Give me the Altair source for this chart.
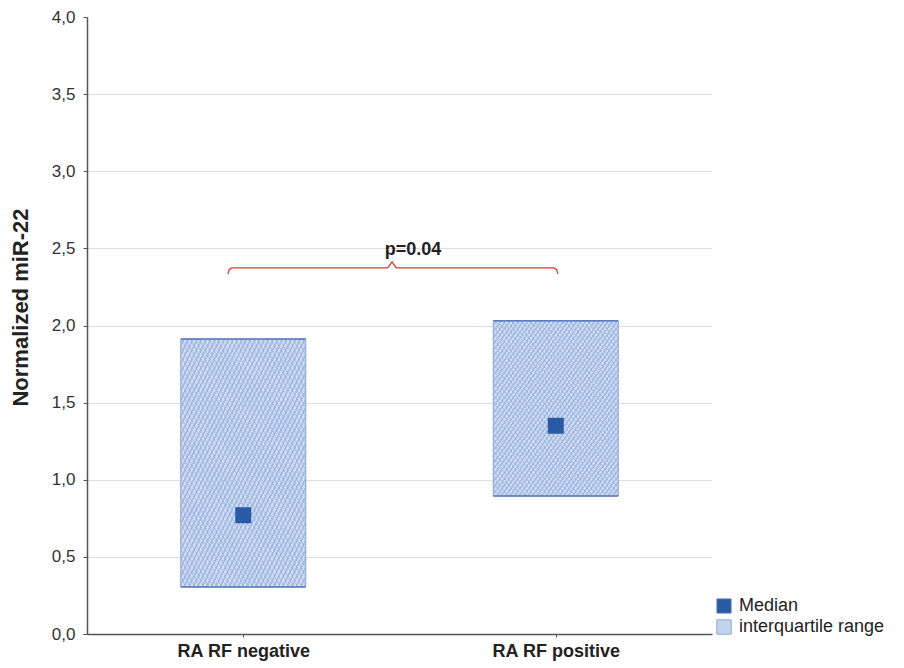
import altair as alt
import pandas as pd

# ---- data ----
groups = ["RA RF negative", "RA RF positive"]
group_pos = [1, 2]
q1 = [0.305, 0.895]
q3 = [1.912, 2.03]
medians = [0.77, 1.35]

bracket_x = [0.951, 0.955, 0.964, 1.462, 1.476, 1.490, 1.994, 2.003, 2.007]
bracket_y = [2.334, 2.362, 2.373, 2.373, 2.412, 2.373, 2.373, 2.362, 2.334]
p_text = ["p=0.04"]
p_x = [1.543]
p_y = [2.49]

legend_names = ["Median", "interquartile range"]

FONT = "Liberation Sans"
HALF = 0.2

box_df = pd.DataFrame({"group": groups, "pos": group_pos, "q1": q1, "q3": q3})
med_df = pd.DataFrame({"group": groups, "pos": group_pos, "median": medians,
                       "series": [legend_names[0]] * len(groups)})
br_df = pd.DataFrame({"x": bracket_x, "y": bracket_y, "o": list(range(len(bracket_x)))})
p_df = pd.DataFrame({"t": p_text, "x": p_x, "y": p_y})


def stripes(n, c1, c2, x2, y2, x1=0, y1=0, frac=0.5):
    stops = []
    for i in range(n):
        a = i / n
        b = (i + frac) / n
        c = (i + 1) / n
        stops += [{"offset": a, "color": c1}, {"offset": b, "color": c1},
                  {"offset": b, "color": c2}, {"offset": c, "color": c2}]
    return {"gradient": "linear", "x1": x1, "y1": y1, "x2": x2, "y2": y2, "stops": stops}


xscale = alt.Scale(domain=[0.5, 2.5], nice=False, zero=False)
yscale = alt.Scale(domain=[0, 4], nice=False, zero=True)

label_expr = "[" + ",".join("'" + g + "'" for g in groups) + "][datum.value - 1]"

x_axis = alt.Axis(values=group_pos, labelExpr=label_expr, title=None, grid=False,
                  labelFont=FONT, labelFontSize=18, labelFontWeight="bold",
                  labelColor="#222222", domainColor="#555555", domainWidth=1.5,
                  tickColor="#555555", tickSize=3, labelPadding=5)
y_axis = alt.Axis(values=[0, 0.5, 1, 1.5, 2, 2.5, 3, 3.5, 4],
                  labelExpr="replace(format(datum.value, '.1f'), '.', ',')",
                  title="Normalized miR-22", titleFont=FONT, titleFontSize=22,
                  titleFontWeight="bold", titleColor="#222222",
                  titleX=-55, titleY=290,
                  labelFont=FONT, labelFontSize=17, labelColor="#333333",
                  labelPadding=8, tickSize=4, tickColor="#555555",
                  domainColor="#555555", domainWidth=1.5,
                  grid=True, gridColor="#dedede", gridWidth=1,
                  gridOpacity={"condition": {"test": "datum.value >= 4", "value": 0}, "value": 1})

base_x = alt.X("x1:Q", scale=xscale, axis=x_axis)

boxes = alt.Chart(box_df).transform_calculate(
    x1=f"datum.pos - {HALF}", x2=f"datum.pos + {HALF}"
).mark_rect(
    fill=stripes(56, "#cfdcf2", "#a9bee6", 1, 1, frac=0.55),
    stroke="#8aa3d6", strokeWidth=1
).encode(
    x=base_x, x2="x2:Q",
    y=alt.Y("q1:Q", scale=yscale, axis=y_axis), y2="q3:Q"
)

cross = alt.Chart(box_df).transform_calculate(
    x1=f"datum.pos - {HALF}", x2=f"datum.pos + {HALF}"
).mark_rect(
    fill=stripes(56, "rgba(255,255,255,0)", "rgba(130,160,215,0.28)", 0, 1, x1=1, y1=0, frac=0.6)
).encode(
    x="x1:Q", x2="x2:Q", y="q1:Q", y2="q3:Q"
)

edges = alt.Chart(box_df).transform_calculate(
    x1=f"datum.pos - {HALF}", x2=f"datum.pos + {HALF}"
).transform_fold(["q1", "q3"], as_=["k", "v"]).mark_rule(
    color="#5b7bbd", strokeWidth=1.5
).encode(x="x1:Q", x2="x2:Q", y="v:Q")

meds = alt.Chart(med_df).mark_point(shape="square", filled=True, size=256, opacity=1).encode(
    x=alt.X("pos:Q"),
    y=alt.Y("median:Q"),
    color=alt.Color("series:N",
                    scale=alt.Scale(domain=legend_names, range=["#2a5aa4", "#c3d3ee"]),
                    legend=alt.Legend(title=None, orient="none", legendX=628, legendY=580,
                                      symbolType="square", symbolSize=210,
                                      symbolStrokeColor="#7f9bd2", symbolStrokeWidth=0.8,
                                      labelFont=FONT, labelFontSize=18, labelColor="#222222",
                                      labelOffset=6, rowPadding=3, padding=0))
)

bracket = alt.Chart(br_df).mark_line(color="#e6392f", strokeWidth=1.3).encode(
    x="x:Q", y="y:Q", order="o:Q"
)

ptext = alt.Chart(p_df).mark_text(font=FONT, fontSize=18, fontWeight="bold",
                                  color="#222222").encode(
    x="x:Q", y="y:Q", text="t:N"
)

chart = alt.layer(boxes, cross, edges, meds, bracket, ptext).properties(
    width=625, height=617,
    autosize=alt.AutoSizeParams(type="none"),
    padding={"left": 79, "top": 9, "right": 184, "bottom": 32},
    background="#ffffff"
).configure_view(stroke=None)

chart.save("out.html", embed_options={"renderer": "svg", "actions": False})
